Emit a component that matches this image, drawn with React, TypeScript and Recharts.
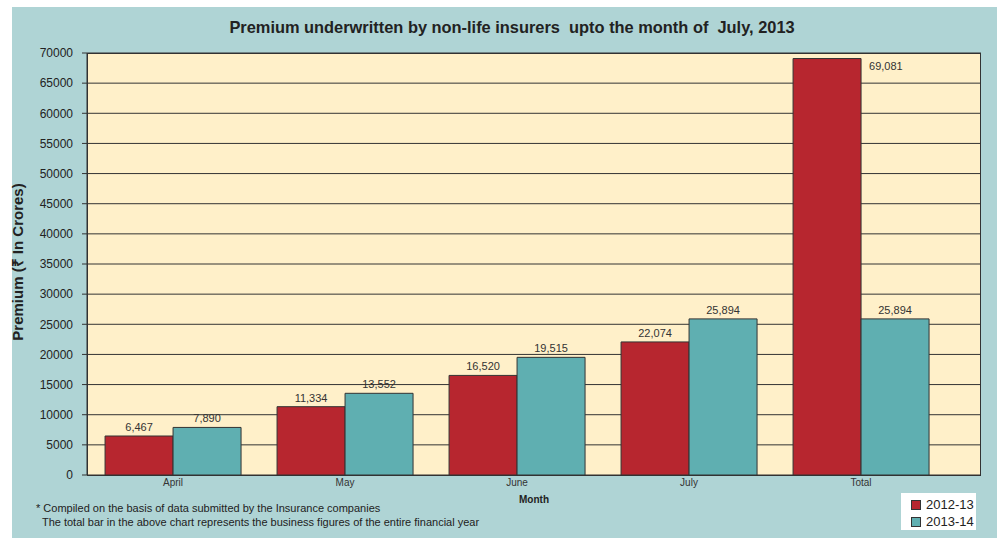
import React from 'react';
import { BarChart, Bar, XAxis, YAxis, CartesianGrid, LabelList } from 'recharts';

const months = ['April', 'May', 'June', 'July', 'Total'];
const premium2012 = [6467, 11334, 16520, 22074, 69081];
const premium2013 = [7890, 13552, 19515, 25894, 25894];
const yTicks = [0, 5000, 10000, 15000, 20000, 25000, 30000, 35000, 40000, 45000, 50000, 55000, 60000, 65000, 70000];
const edgeTicks = [0, 1, 2, 3, 4, 5];

const RED = '#b7262f';
const TEAL = '#5fafb1';
const FONT = '"Liberation Sans", Arial, sans-serif';

const chartData = months.map((m, i) => ({
  name: m,
  '2012-13': premium2012[i],
  '2013-14': premium2013[i],
}));

const fmt = (v: number) => v.toLocaleString('en-US');

// label above bar; if the bar reaches the top, put it to the right instead
const BarLabel = (props: any) => {
  const { x, y, width, value } = props;
  const nearTop = y < 70;
  return (
    <text
      x={nearTop ? x + width + 8 : x + width / 2}
      y={nearTop ? y + 11 : y - 5}
      textAnchor={nearTop ? 'start' : 'middle'}
      fontSize={11}
      fontFamily={FONT}
      fill="#333"
    >
      {fmt(value)}
    </text>
  );
};

const LegendBox = () => (
  <div
    style={{
      position: 'absolute',
      left: 901,
      top: 493,
      background: '#fff',
      width: 75,
      height: 37,
      boxSizing: 'border-box',
      padding: '3px 0 0 10px',
      fontFamily: FONT,
      fontSize: 13,
      color: '#222',
      lineHeight: '17px',
    }}
  >
    {[['2012-13', RED], ['2013-14', TEAL]].map(([label, color]) => (
      <div key={label} style={{ display: 'flex', alignItems: 'center' }}>
        <span
          style={{
            display: 'inline-block',
            width: 8,
            height: 8,
            background: color,
            border: '1px solid #333',
            marginRight: 5,
          }}
        />
        {label}
      </div>
    ))}
  </div>
);

export default function App() {
  return (
    <div style={{ position: 'absolute', left: 0, top: 0, width: 997, height: 538, background: '#fff' }}>
      <div style={{ position: 'absolute', left: 12, top: 7, width: 985, height: 531, background: '#afd4d5' }} />
      <div
        style={{
          position: 'absolute',
          left: 87,
          top: 53,
          width: 894,
          height: 423,
          background: '#fff0c9',
          border: '1px solid #333',
          boxSizing: 'border-box',
        }}
      />
      <div
        style={{
          position: 'absolute',
          left: 0,
          top: 18,
          width: 1024,
          textAlign: 'center',
          fontFamily: FONT,
          fontWeight: 'bold',
          fontSize: 16.4,
          color: '#222',
        }}
      >
        Premium underwritten by non-life insurers&nbsp; upto the month of&nbsp; July, 2013
      </div>
      <div
        style={{
          position: 'absolute',
          left: 17,
          top: 262,
          transform: 'translate(-50%, -50%) rotate(-90deg)',
          whiteSpace: 'nowrap',
          fontFamily: FONT,
          fontWeight: 'bold',
          fontSize: 15,
          color: '#222',
        }}
      >
        Premium (₹ In Crores)
      </div>
      <div
        style={{
          position: 'absolute',
          left: 36,
          top: 501,
          fontFamily: FONT,
          fontSize: 11,
          color: '#222',
          lineHeight: '14px',
          whiteSpace: 'pre',
        }}
      >
        {'* Compiled on the basis of data submitted by the Insurance companies\n  The total bar in the above chart represents the business figures of the entire financial year'}
      </div>
      <LegendBox />
      <div style={{ position: 'absolute', left: 0, top: 0 }}>
        <BarChart
          width={997}
          height={538}
          data={chartData}
          margin={{ top: 53, right: 16, left: 27, bottom: 35 }}
          barCategoryGap="10.5%"
          barGap={0}
        >
          <CartesianGrid vertical={false} stroke="#333" strokeWidth={1} />
          <XAxis
            xAxisId="edges"
            type="number"
            domain={[0, 5]}
            ticks={edgeTicks}
            padding={{ left: 0, right: 34 }}
            tick={false}
            tickSize={5}
            tickLine={{ stroke: '#333' }}
            axisLine={{ stroke: '#333' }}
            height={0}
          />
          <XAxis
            dataKey="name"
            padding={{ left: 0, right: 34 }}
            tickLine={false}
            axisLine={false}
            tickSize={0}
            tick={{ fill: '#333', fontSize: 10, fontFamily: FONT }}
            tickMargin={4}
            height={28}
            label={{
              value: 'Month',
              position: 'insideBottom',
              offset: 0,
              style: { fill: '#222', fontSize: 10, fontWeight: 'bold', fontFamily: FONT },
            }}
          />
          <YAxis
            domain={[0, 70000]}
            ticks={yTicks}
            interval={0}
            width={60}
            tickSize={5}
            tickMargin={9}
            tickLine={{ stroke: '#333' }}
            axisLine={{ stroke: '#333' }}
            tick={{ fill: '#222', fontSize: 12, fontFamily: FONT }}
          />
          <Bar dataKey="2012-13" fill={RED} stroke="#333" strokeWidth={1} isAnimationActive={false}>
            <LabelList dataKey="2012-13" content={<BarLabel />} />
          </Bar>
          <Bar dataKey="2013-14" fill={TEAL} stroke="#333" strokeWidth={1} isAnimationActive={false}>
            <LabelList dataKey="2013-14" content={<BarLabel />} />
          </Bar>
        </BarChart>
      </div>
    </div>
  );
}
